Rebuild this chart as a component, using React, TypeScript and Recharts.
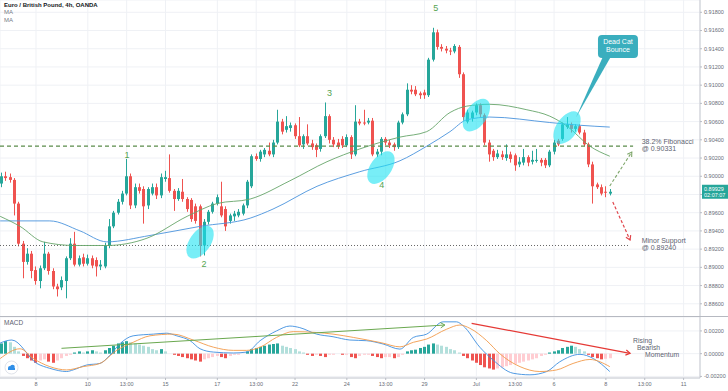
import React from 'react';
import { ComposedChart, Bar, Line, XAxis, YAxis, CartesianGrid, ReferenceLine, ReferenceDot } from 'recharts';

const FONT = "'Liberation Sans', Arial, sans-serif";
const UP = '#26a69a';
const DOWN = '#ef5350';
const X_DOMAIN: [number, number] = [-0.34, 161.8];

// EUR/GBP 4h candles, in pips (price x 10000)
const opens = [
  8992, 9000, 8999, 8996, 8970, 8926, 8906, 8915, 8897, 8885,
  8899, 8915, 8896, 8879, 8878, 8885, 8910, 8926, 8903, 8911,
  8904, 8910, 8908, 8901, 8901, 8924, 8945, 8960, 8972, 8981,
  9000, 8968, 8988, 8986, 8968, 8981, 8988, 8979, 8997, 8998,
  8984, 8975, 8983, 8975, 8974, 8967, 8967, 8924, 8950, 8961,
  8970, 8967, 8964, 8951, 8956, 8957, 8959, 8968, 8989, 9022,
  9019, 9024, 9028, 9024, 9037, 9060, 9051, 9053, 9056, 9044,
  9035, 9044, 9036, 9034, 9030, 9044, 9066, 9040, 9037, 9041,
  9034, 9043, 9024, 9060, 9059, 9059, 9061, 9024, 9027, 9041,
  9037, 9035, 9032, 9059, 9068, 9095, 9095, 9091, 9092, 9089,
  9128, 9158, 9142, 9140, 9138, 9137, 9142, 9112, 9060, 9064,
  9070, 9078, 9067, 9037, 9028, 9021, 9024, 9020, 9024, 9023,
  9013, 9015, 9021, 9016, 9017, 9018, 9018, 9012, 9027, 9039,
  9041, 9054, 9057, 9052, 9055, 9048, 9035, 9013, 8991, 8988,
  8983, 8981,
];
const highs = [
  9004, 9005, 9003, 8998, 8972, 8929, 8921, 8918, 8901, 8902,
  8928, 8917, 8899, 8882, 8890, 8912, 8932, 8939, 8913, 8915,
  8914, 8913, 8911, 8908, 8927, 8953, 8962, 8975, 8984, 9019,
  9003, 8992, 8992, 8989, 8988, 8992, 8992, 9003, 9006, 9024,
  8986, 8987, 8997, 8977, 8976, 8970, 8969, 8953, 8963, 8972,
  8980, 8994, 8967, 8959, 8962, 8964, 8970, 8996, 9024, 9025,
  9029, 9031, 9037, 9040, 9073, 9063, 9066, 9059, 9058, 9065,
  9046, 9057, 9040, 9036, 9046, 9081, 9068, 9043, 9041, 9044,
  9046, 9045, 9078, 9063, 9073, 9064, 9064, 9030, 9043, 9043,
  9040, 9037, 9061, 9070, 9102, 9100, 9099, 9093, 9095, 9130,
  9163, 9161, 9145, 9143, 9141, 9145, 9144, 9114, 9073, 9072,
  9080, 9080, 9069, 9040, 9030, 9029, 9028, 9035, 9027, 9025,
  9021, 9030, 9023, 9028, 9030, 9020, 9020, 9029, 9040, 9041,
  9059, 9065, 9059, 9057, 9057, 9051, 9037, 9016, 8993, 8991,
  8989, 8986,
];
const lows = [
  8988, 8995, 8993, 8957, 8923, 8888, 8903, 8888, 8881, 8877,
  8897, 8892, 8876, 8868, 8875, 8866, 8908, 8901, 8901, 8901,
  8902, 8899, 8890, 8897, 8899, 8921, 8943, 8958, 8969, 8979,
  8964, 8965, 8981, 8948, 8964, 8979, 8975, 8976, 8994, 8982,
  8962, 8973, 8972, 8961, 8950, 8948, 8912, 8913, 8947, 8959,
  8968, 8955, 8940, 8948, 8951, 8955, 8957, 8965, 8987, 9017,
  9016, 9021, 9022, 9021, 9035, 9046, 9048, 9049, 9041, 9032,
  9030, 9034, 9029, 9021, 9027, 9042, 9036, 9032, 9030, 9031,
  9032, 9019, 9022, 9056, 9056, 9057, 9022, 9021, 9023, 9034,
  9031, 9028, 9030, 9057, 9066, 9090, 9088, 9085, 9085, 9087,
  9126, 9139, 9137, 9135, 9133, 9135, 9108, 9061, 9058, 9060,
  9067, 9065, 9034, 9016, 9017, 9019, 9018, 9017, 9015, 9006,
  9010, 9012, 9011, 9013, 9015, 9011, 9009, 9010, 9024, 9033,
  9039, 9052, 9048, 9049, 9046, 9033, 9010, 8970, 8986, 8979,
  8977, 8979,
];
const closes = [
  9000, 8998, 8996, 8970, 8926, 8906, 8915, 8896, 8885, 8899,
  8915, 8896, 8879, 8876, 8886, 8910, 8926, 8903, 8910, 8904,
  8910, 8902, 8901, 8903, 8924, 8945, 8960, 8972, 8981, 9000,
  8968, 8988, 8984, 8967, 8986, 8988, 8979, 8999, 8999, 8984,
  8975, 8984, 8975, 8964, 8953, 8951, 8924, 8950, 8961, 8970,
  8977, 8957, 8945, 8957, 8959, 8961, 8968, 8994, 9022, 9019,
  9027, 9029, 9024, 9037, 9060, 9049, 9055, 9056, 9044, 9034,
  9044, 9036, 9032, 9029, 9044, 9066, 9040, 9035, 9033, 9034,
  9043, 9024, 9060, 9058, 9058, 9061, 9024, 9027, 9041, 9037,
  9034, 9032, 9059, 9068, 9095, 9093, 9090, 9089, 9089, 9128,
  9158, 9142, 9140, 9138, 9137, 9143, 9112, 9065, 9070, 9070,
  9078, 9068, 9037, 9024, 9021, 9025, 9021, 9024, 9019, 9012,
  9016, 9021, 9015, 9018, 9018, 9015, 9012, 9027, 9037, 9035,
  9057, 9057, 9052, 9055, 9048, 9035, 9013, 8989, 8988, 8981,
  8982, 8983,
];

// moving averages read at a few points: [candle index, price]
const maGreen = [
  [-0.3, 0.8956], [4.3, 0.8945], [9.6, 0.8928], [17, 0.8924], [24.4, 0.8924], [33.7, 0.8932],
  [43, 0.8956], [49.9, 0.897], [57.6, 0.8975], [66.8, 0.8995], [75.4, 0.9016], [83, 0.903],
  [92.3, 0.9043], [98.5, 0.9049], [103.9, 0.907], [107.8, 0.9077], [113.1, 0.9079], [121.7, 0.9073],
  [127, 0.9066], [131, 0.9055], [136.3, 0.9033], [140.9, 0.9022],
];
const maBlue = [
  [-0.3, 0.8951], [11.2, 0.8951], [18.2, 0.894], [24.4, 0.8928], [34.4, 0.8935], [46, 0.8945],
  [57.6, 0.8954], [62.9, 0.8964], [73.1, 0.8989], [83, 0.9005], [92.3, 0.9017], [98.5, 0.9033],
  [103.9, 0.9049], [107.8, 0.9062], [113.1, 0.9065], [127, 0.9059], [134, 0.9056], [140.9, 0.9054],
];

// MACD histogram per candle, x 10000
const histE4 = [
  9, 11, 10, 6, 2, -2, -4, -6, -8, -6,
  -5, -7, -8, -6, -4, -2, -1, 1, 2, 1,
  2, 3, 2, 1, 3, 5, 7, 9, 10, 11,
  10, 9, 8, 7, 6, 4, 3, 4, 2, 0,
  -1, -2, -3, -4, -5, -6, -7, -5, -4, -3,
  -2, -3, -4, -2, -1, -1, 0, 2, 4, 5,
  6, 7, 8, 8.5, 9, 7, 6, 5, 4, 2,
  1, -1, -2, -1, -2, -3, -1, -1, 0, -1,
  -1, -3, -4, -2, -1, -1, -2, -3, -4, -3,
  -3, -4, -3, -1, 2, 3, 3.5, 5, 6, 8,
  9, 8, 7, 6, 4, 3, 1, -2, -4, -6,
  -8, -10, -12, -13, -14, -13, -12, -11, -10, -9,
  -8, -7, -6, -5, -4, -2, -1, 1, 2, 3,
  5, 6, 7, 6, 4, 2, -1, -3, -4, -5,
  -4.5, -4,
];
// MACD and signal lines: [candle index, value x 10000]
const macdE4 = [
  [-0.3, 9.4], [2.4, 12], [8.2, -8.6], [11.2, -12.9], [15.1, -15.7], [16.6, -14.3], [19.7, -10],
  [22.8, -8.6], [25.1, -1.4], [27.4, 8.6], [30.5, 15.7], [35.2, 17.2], [38.3, 18], [40.6, 15.7],
  [43.7, 11.4], [46, 4.3], [49.1, 1.4], [53.7, 0.6], [56.8, 1.4], [59.9, 11.4], [63.7, 20],
  [66.8, 24.3], [69.1, 22.9], [73, 17.2], [76.8, 14.9], [80.7, 12], [84.6, 11.4], [88.4, 8.5],
  [92.3, 4], [95.4, 14.3], [98.5, 17.2], [102.3, 28], [105.4, 28], [107, 24.3], [110.8, 5.7],
  [113.9, -5.7], [118.5, -17.2], [122.4, -18.6], [126.3, -15.7], [129.3, -7.2], [134, -0.6],
  [137.1, -4.3], [140.9, -15.7],
];
const signalE4 = [
  [-0.3, -4.3], [4.3, 4.3], [7.4, -4.3], [11.2, -11.4], [15.1, -14.3], [18.9, -11.4], [22.8, -8.6],
  [26.7, 2.9], [30.5, 10], [34.4, 15.7], [39.8, 17.2], [44.4, 12], [49.1, 5.7], [53.7, 2.9],
  [56.8, 2.9], [59.9, 5.7], [63.7, 14.3], [67.6, 19.4], [73, 18.6], [76.8, 17.2], [81.5, 14.3],
  [88.1, 9.5], [92.3, 6], [95.4, 10], [98.5, 12.9], [103.1, 21.5], [106.2, 25.2], [108.5, 22.3],
  [112.4, 11.4], [115.4, 0], [120.1, -11.4], [124.7, -15.7], [128.6, -14.3], [132.4, -8.6],
  [136.3, -5.1], [140.9, -11.4],
];

const priceTicks = [0.886, 0.888, 0.89, 0.892, 0.894, 0.896, 0.898, 0.9, 0.902, 0.904, 0.906, 0.908, 0.91, 0.912, 0.914, 0.916, 0.918];
const macdTicks = [-0.002, 0, 0.002];
const timeTicks = [8, 20, 29, 38, 50, 59, 68, 80, 89, 98, 110, 119, 128, 140, 149, 158];
const timeLabels = ['8', '10', '13:00', '15', '17', '13:00', '22', '24', '13:00', '29', 'Jul', '13:00', '6', '8', '13:00', '11'];

const FIB = 0.90331;
const SUPPORT = 0.8924;
const LAST_PRICE_TEXT = '0.89929';

const candles = opens.map((o, i) => ({
  i,
  o: o / 1e4,
  h: highs[i] / 1e4,
  l: lows[i] / 1e4,
  c: closes[i] / 1e4,
  range: [lows[i] / 1e4, highs[i] / 1e4],
}));
const histRows = histE4.map((v, i) => ({ i, hist: v / 1e4 }));
const toPts = (arr: number[][], scale = 1) => arr.map(([i, v]) => ({ i, v: v / scale }));

const histColor = (i: number) => {
  const v = histE4[i];
  const prev = i > 0 ? histE4[i - 1] : -Infinity;
  if (v >= 0) return v > prev ? '#26a69a' : '#b2dfdb';
  return v < prev ? '#ef5350' : '#ffcdd2';
};

const Candle = (props: any) => {
  const { x, y, width, height, payload } = props;
  if (!payload) return null;
  const top = Math.min(y, y + height);
  const span = Math.abs(height);
  const { o, h, l, c } = payload;
  const k = h > l ? span / (h - l) : 0;
  const color = c >= o ? UP : DOWN;
  const bTop = top + (h - Math.max(o, c)) * k;
  const bH = Math.max(1, Math.abs(c - o) * k);
  const left = Math.round(x + width / 2 - 1.5);
  return (
    <g>
      <line x1={left + 1.5} x2={left + 1.5} y1={top} y2={top + span} stroke={color} strokeWidth={1} />
      <rect x={left} y={bTop} width={3} height={bH} fill={color} />
    </g>
  );
};

const HistBar = (props: any) => {
  const { x, y, width, height, payload } = props;
  if (!payload || !height) return null;
  const left = Math.round(x + width / 2 - 1.5);
  return <rect x={left} y={Math.min(y, y + height)} width={3} height={Math.abs(height)} fill={histColor(payload.i)} />;
};

const arrowShape = (color: string, dash: string | undefined, w: number) => (p: any) => {
  const { x1, y1, x2, y2 } = p;
  const a = Math.atan2(y2 - y1, x2 - x1);
  const L = 5;
  const s = 0.55;
  const pts = `${x2 - L * Math.cos(a - s)},${y2 - L * Math.sin(a - s)} ${x2},${y2} ${x2 - L * Math.cos(a + s)},${y2 - L * Math.sin(a + s)}`;
  return (
    <g>
      <line x1={x1} y1={y1} x2={x2} y2={y2} stroke={color} strokeWidth={w} strokeDasharray={dash} />
      <polyline points={pts} fill="none" stroke={color} strokeWidth={w} />
    </g>
  );
};

const ellipse = (p: any) => (
  <ellipse cx={p.cx} cy={p.cy} rx={10.5} ry={18.5} transform={`rotate(35 ${p.cx} ${p.cy})`} fill="#1ee3f2" fillOpacity={0.6} />
);

const waveLabel = (t: string) => (p: any) => (
  <text x={p.cx} y={p.cy} textAnchor="middle" dominantBaseline="central" fontSize={9} fill="#56a450" fontFamily={FONT}>
    {t}
  </text>
);

const sideNote = (l1: string, l2: string) => (p: any) => (
  <g fontFamily={FONT} fontSize={7} fill="#5d6270">
    <text x={p.cx} y={p.cy - 2.5}>{l1}</text>
    <text x={p.cx} y={p.cy + 4.8}>{l2}</text>
  </g>
);

const callout = (p: any) => (
  <g>
    <polygon points={`${p.cx - 15},${p.cy + 10} ${p.cx - 7},${p.cy + 10} ${p.cx - 42},${p.cy + 71}`} fill="#3aaebe" />
    <rect x={p.cx - 20} y={p.cy - 11.5} width={40} height={23} rx={4} fill="#3aaebe" />
    <text x={p.cx} y={p.cy - 2} textAnchor="middle" fontSize={7} fill="#fff" fontFamily={FONT}>Dead Cat</text>
    <text x={p.cx} y={p.cy + 6} textAnchor="middle" fontSize={7} fill="#fff" fontFamily={FONT}>Bounce</text>
  </g>
);

const priceBox = (p: any) => (
  <g fontFamily={FONT} fontSize={5.5} fill="#fff">
    <rect x={p.cx + 2} y={p.cy - 7} width={26} height={14} fill={UP} />
    <text x={p.cx + 4} y={p.cy - 1}>{LAST_PRICE_TEXT}</text>
    <text x={p.cx + 4} y={p.cy + 5.5}>02:07:07</text>
  </g>
);

const momentumNote = (p: any) => (
  <g fontFamily={FONT} fontSize={6.8} fill="#5d6270">
    <text x={p.cx} y={p.cy - 1}>Rising</text>
    <text x={p.cx + 4} y={p.cy + 6}>Bearish</text>
    <text x={p.cx + 12} y={p.cy + 13}>Momentum</text>
  </g>
);

const axisTick = { fontSize: 5.5, fill: '#6a6d78', fontFamily: FONT };

export default function App() {
  return (
    <div style={{ position: 'absolute', left: 0, top: 0, width: 728, height: 391, background: '#fff', fontFamily: FONT }}>
      <div style={{ position: 'absolute', left: 0, top: 0 }}>
        <ComposedChart width={728} height={317} data={candles} margin={{ top: 0, right: 0, bottom: 0, left: 0 }}>
          <CartesianGrid stroke="#eff1f5" />
          <XAxis type="number" dataKey="i" domain={X_DOMAIN} ticks={timeTicks} hide allowDataOverflow />
          <YAxis
            orientation="right"
            width={28}
            domain={[0.88455, 0.91935]}
            ticks={priceTicks}
            interval={0}
            allowDataOverflow
            tickFormatter={(v: number) => (Math.abs(v - 0.898) < 1e-6 ? '' : v.toFixed(5))}
            tick={axisTick}
            tickSize={2}
            tickLine={{ stroke: '#b9bcc4' }}
            axisLine={{ stroke: '#c6c9d0' }}
          />
          <ReferenceLine segment={[{ x: -0.34, y: FIB }, { x: 146.3, y: FIB }]} stroke="#5b8c4b" strokeWidth={1.3} strokeDasharray="4 3" />
          <ReferenceLine segment={[{ x: -0.34, y: SUPPORT }, { x: 145.5, y: SUPPORT }]} stroke="#555" strokeWidth={0.9} strokeDasharray="1 2" />
          <Line data={toPts(maBlue)} dataKey="v" type="monotone" stroke="#4a93dc" strokeWidth={0.9} dot={false} isAnimationActive={false} />
          <Line data={toPts(maGreen)} dataKey="v" type="monotone" stroke="#67a56a" strokeWidth={0.9} dot={false} isAnimationActive={false} />
          <Bar dataKey="range" barSize={3} shape={Candle} isAnimationActive={false} />
          <ReferenceDot x={46} y={0.89276} r={1} shape={ellipse} />
          <ReferenceDot x={87.9} y={0.90095} r={1} shape={ellipse} />
          <ReferenceDot x={110} y={0.90671} r={1} shape={ellipse} />
          <ReferenceDot x={131} y={0.90534} r={1} shape={ellipse} />
          <ReferenceDot x={142.8} y={0.91425} r={1} shape={callout} />
          <ReferenceDot x={29.1} y={0.90232} r={1} shape={waveLabel('1')} />
          <ReferenceDot x={46.9} y={0.89034} r={1} shape={waveLabel('2')} />
          <ReferenceDot x={76} y={0.90913} r={1} shape={waveLabel('3')} />
          <ReferenceDot x={88.1} y={0.89902} r={1} shape={waveLabel('4')} />
          <ReferenceDot x={100.6} y={0.91847} r={1} shape={waveLabel('5')} />
          <ReferenceLine segment={[{ x: 140.9, y: 0.89893 }, { x: 146, y: 0.90266 }]} shape={arrowShape('#7ea66a', '3 2', 1.1)} />
          <ReferenceLine segment={[{ x: 141.6, y: 0.89717 }, { x: 145.6, y: 0.893 }]} shape={arrowShape('#e0454b', '3 2', 1.2)} />
          <ReferenceDot x={148.3} y={FIB} r={1} shape={sideNote('38.2% Fibonacci', '@ 0.90331')} />
          <ReferenceDot x={148.3} y={SUPPORT} r={1} shape={sideNote('Minor Support', '@ 0.89240')} />
          <ReferenceDot x={161.8} y={closes[closes.length - 1] / 1e4} r={1} shape={priceBox} ifOverflow="visible" />
        </ComposedChart>
      </div>
      <div style={{ position: 'absolute', left: 0, top: 317 }}>
        <ComposedChart width={728} height={74} data={histRows} margin={{ top: 0, right: 0, bottom: 0, left: 0 }}>
          <CartesianGrid stroke="#eff1f5" />
          <XAxis
            type="number"
            dataKey="i"
            domain={X_DOMAIN}
            ticks={timeTicks}
            interval={0}
            allowDataOverflow
            height={13}
            tickFormatter={(v: number) => timeLabels[timeTicks.indexOf(v)] ?? ''}
            tick={axisTick}
            tickSize={2}
            tickLine={{ stroke: '#b9bcc4' }}
            axisLine={{ stroke: '#c6c9d0' }}
          />
          <YAxis
            orientation="right"
            width={28}
            domain={[-0.00214, 0.003225]}
            ticks={macdTicks}
            interval={0}
            allowDataOverflow
            tickFormatter={(v: number) => v.toFixed(5)}
            tick={axisTick}
            tickSize={2}
            tickLine={{ stroke: '#b9bcc4' }}
            axisLine={{ stroke: '#c6c9d0' }}
          />
          <Bar dataKey="hist" barSize={3} shape={HistBar} isAnimationActive={false} />
          <Line data={toPts(macdE4, 1e4)} dataKey="v" type="monotone" stroke="#3d8fe0" strokeWidth={0.9} dot={false} isAnimationActive={false} />
          <Line data={toPts(signalE4, 1e4)} dataKey="v" type="monotone" stroke="#f29a4a" strokeWidth={0.9} dot={false} isAnimationActive={false} />
          <ReferenceLine segment={[{ x: 13.9, y: 0.00047 }, { x: 102.7, y: 0.00252 }]} shape={arrowShape('#6aa84f', undefined, 1)} />
          <ReferenceLine segment={[{ x: 108.9, y: 0.00267 }, { x: 145.6, y: 0.00003 }]} shape={arrowShape('#e53935', undefined, 1.2)} />
          <ReferenceDot x={146.3} y={0.00085} r={1} shape={momentumNote} />
        </ComposedChart>
      </div>
      <div style={{ position: 'absolute', left: 0, top: 316, width: 728, height: 1, background: '#b6b9c1' }} />
      <div style={{ position: 'absolute', left: 4, top: 2, fontSize: 6, lineHeight: '7.3px', color: '#131722' }}>
        <div style={{ fontWeight: 600 }}>Euro / British Pound, 4h, OANDA</div>
        <div style={{ color: '#787b86' }}>MA</div>
        <div style={{ color: '#787b86' }}>MA</div>
      </div>
      <div style={{ position: 'absolute', left: 4, top: 319, fontSize: 6.5, color: '#5d6270' }}>MACD</div>
      <svg style={{ position: 'absolute', left: 4, top: 360 }} width={15} height={15}>
        <circle cx={7.5} cy={7.5} r={6.5} fill="#fff" stroke="#e0e3ea" />
        <circle cx={6} cy={8} r={2} fill="#2f8fe8" />
        <circle cx={8.5} cy={7} r={2.3} fill="#2f8fe8" />
        <rect x={4} y={8} width={7} height={2} fill="#2f8fe8" />
      </svg>
    </div>
  );
}
